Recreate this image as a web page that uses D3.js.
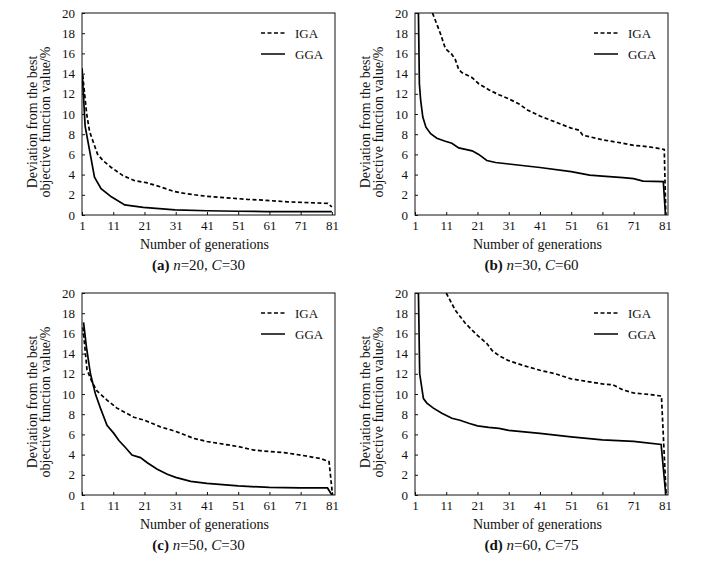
<!DOCTYPE html>
<html>
<head>
<meta charset="utf-8">
<script src="https://cdn.jsdelivr.net/npm/d3@7"></script>
<style>
    body { margin: 0; background: #fff; }
    text { font-family: "Liberation Serif", "Times New Roman", serif; fill: #111; }
</style>
</head>
<body>
<div id="chart"></div>
<script>
// tick labels and captions
let xTicks = [1, 11, 21, 31, 41, 51, 61, 71, 81];
let yTicks = [0, 2, 4, 6, 8, 10, 12, 14, 16, 18, 20];
let seriesNames = ["IGA", "GGA"];
let panelTags = ["(a)", "(b)", "(c)", "(d)"];
let nValues = [20, 30, 50, 60];
let cValues = [30, 60, 30, 75];

// (a) n=20, C=30
let igaGenA = [1, 2.5, 3.4, 4.4, 6, 7.7, 10.4, 14.1, 17.9, 21.6, 26, 30.2, 34.5, 41, 47.5, 53.9, 60, 66.8, 75.4, 79.7, 81];
let igaValA = [14.5, 10, 8.3, 7.4, 6.0, 5.4, 4.7, 3.9, 3.4, 3.2, 2.8, 2.35, 2.1, 1.85, 1.7, 1.55, 1.45, 1.3, 1.2, 1.15, 0.8];
let ggaGenA = [1, 2, 5, 7.1, 10.4, 14.7, 20.6, 30.8, 41, 50.7, 60, 81];
let ggaValA = [14.5, 8.8, 3.75, 2.6, 1.8, 1.0, 0.75, 0.5, 0.42, 0.37, 0.34, 0.33];

// (b) n=30, C=60
let igaGenB = [6.6, 9.1, 10.7, 12.8, 13.9, 15, 16, 19.3, 21.4, 24.6, 27.9, 31, 34.3, 37, 41, 46, 51, 53.6, 54.7, 61, 67.6, 71, 76, 80.8, 81.3];
let igaValB = [20, 18, 16.5, 15.9, 15.4, 14.4, 14.1, 13.6, 13.0, 12.4, 11.9, 11.5, 11.0, 10.4, 9.8, 9.2, 8.6, 8.4, 7.9, 7.45, 7.1, 6.9, 6.75, 6.5, 0];
let ggaGenB = [2.1, 2.4, 2.8, 3.5, 4.5, 6, 8, 10.7, 12.8, 15, 19.3, 21.4, 24, 26.8, 31, 41, 51, 56.9, 61, 67.6, 71, 74, 80.5, 81.2];
let ggaValB = [20, 13, 11.4, 9.7, 8.7, 8.05, 7.6, 7.3, 7.1, 6.65, 6.35, 6.0, 5.4, 5.2, 5.05, 4.7, 4.3, 3.95, 3.85, 3.7, 3.6, 3.35, 3.3, 0];

// (c) n=50, C=30
let igaGenC = [1.3, 2.6, 4.2, 5.8, 9, 12.2, 17.6, 21, 26.1, 31, 36.8, 41, 51, 56, 61, 65.7, 71, 77.5, 80.1, 81.2];
let igaValC = [16.6, 12.4, 11.2, 10.3, 9.4, 8.6, 7.7, 7.4, 6.75, 6.3, 5.6, 5.3, 4.8, 4.45, 4.3, 4.2, 3.95, 3.6, 3.3, 0];
let ggaGenC = [1.5, 2.4, 3.7, 5.3, 6.9, 9, 11.2, 12.8, 14.9, 17, 19.7, 21.9, 25.1, 28.3, 31, 35.8, 41, 51, 61, 71, 79.6, 81];
let ggaValC = [17.1, 14.7, 12.0, 10.0, 8.6, 6.9, 6.1, 5.4, 4.7, 3.95, 3.7, 3.2, 2.55, 2.05, 1.75, 1.35, 1.15, 0.9, 0.75, 0.7, 0.7, 0];

// (d) n=60, C=75
let igaGenD = [11, 13.9, 17.1, 21, 24, 25.7, 27.9, 31, 35.4, 41, 46, 51, 56.9, 61, 64.4, 67.6, 71, 76, 79.9, 81.4];
let igaValD = [20, 18.3, 17, 15.8, 15, 14.3, 13.8, 13.3, 12.85, 12.35, 12.0, 11.5, 11.2, 11.0, 10.9, 10.4, 10.1, 9.95, 9.8, 0];
let ggaGenD = [2.1, 2.5, 3.7, 4.8, 6.9, 9.6, 12.8, 15.4, 18.2, 21, 24.6, 27.9, 31, 41, 51, 61, 71, 79.8, 81.3];
let ggaValD = [20, 12, 9.55, 9.1, 8.6, 8.1, 7.6, 7.4, 7.1, 6.85, 6.7, 6.6, 6.4, 6.1, 5.75, 5.45, 5.3, 5.0, 0];

let panels = [
    {left: 82, top: 13, iga: [igaGenA, igaValA], gga: [ggaGenA, ggaValA]},
    {left: 415, top: 13, iga: [igaGenB, igaValB], gga: [ggaGenB, ggaValB]},
    {left: 82, top: 293, iga: [igaGenC, igaValC], gga: [ggaGenC, ggaValC]},
    {left: 415, top: 293, iga: [igaGenD, igaValD], gga: [ggaGenD, ggaValD]}
];

let svg = d3.select("#chart").append("svg")
    .attr("width", 714)
    .attr("height", 565);

let plotW = 253, plotH = 202;

panels.forEach(function (p, i) {
    let g = svg.append("g").attr("transform", "translate(" + p.left + "," + p.top + ")");

    let x = d3.scaleLinear().domain([1, 82]).range([0, plotW]);
    let y = d3.scaleLinear().domain([0, 20]).range([plotH, 0]);

    g.append("clipPath").attr("id", "clip" + i)
        .append("rect").attr("width", plotW).attr("height", plotH);

    // axes, ticks pointing inwards
    let xAxis = g.append("g")
        .attr("transform", "translate(0," + plotH + ")")
        .call(d3.axisBottom(x).tickValues(xTicks).tickSizeInner(-3).tickSizeOuter(0).tickPadding(6));
    let yAxis = g.append("g")
        .call(d3.axisLeft(y).tickValues(yTicks).tickSizeInner(-3).tickSizeOuter(0).tickPadding(7));
    [xAxis, yAxis].forEach(function (a) {
        a.select(".domain").remove();
        a.selectAll("line").attr("stroke", "#111");
        a.selectAll("text").style("font-size", "13px").style("fill", "#111")
            .style("font-family", "'Liberation Serif', serif");
    });

    g.append("rect")
        .attr("width", plotW).attr("height", plotH)
        .attr("fill", "none").attr("stroke", "#111").attr("stroke-width", 1);

    let line = d3.line()
        .x(function (d) { return x(d[0]); })
        .y(function (d) { return y(d[1]); });

    [p.iga, p.gga].forEach(function (s, k) {
        let pts = s[0].map(function (gen, j) { return [gen, s[1][j]]; });
        g.append("path")
            .datum(pts)
            .attr("clip-path", "url(#clip" + i + ")")
            .attr("fill", "none")
            .attr("stroke", "#000")
            .attr("stroke-width", 1.7)
            .attr("stroke-dasharray", k === 0 ? "4,2.5" : null)
            .attr("d", line);
    });

    // legend
    seriesNames.forEach(function (name, k) {
        let ly = 20 + k * 21;
        g.append("line")
            .attr("x1", plotW - 74).attr("x2", plotW - 50)
            .attr("y1", ly).attr("y2", ly)
            .attr("stroke", "#000").attr("stroke-width", 1.5)
            .attr("stroke-dasharray", k === 0 ? "4,2.5" : null);
        g.append("text")
            .attr("x", plotW - 40).attr("y", ly).attr("dy", "0.35em")
            .style("font-size", "13px")
            .text(name);
    });

    // y title
    let yt = g.append("text")
        .attr("transform", "translate(-50," + (plotH / 2 + 8) + ") rotate(-90)")
        .attr("text-anchor", "middle")
        .style("font-size", "14px");
    yt.append("tspan").attr("x", 0).attr("dy", "0.35em").text("Deviation from the best");
    yt.append("tspan").attr("x", 0).attr("dy", 13).text("objective function value/%");

    // x title
    g.append("text")
        .attr("x", plotW / 2 - 4).attr("y", plotH + 29).attr("dy", "0.35em")
        .attr("text-anchor", "middle")
        .style("font-size", "14px")
        .text("Number of generations");

    // caption
    let cap = g.append("text")
        .attr("x", plotW / 2 - 10).attr("y", plotH + 50).attr("dy", "0.35em")
        .attr("text-anchor", "middle")
        .style("font-size", "15px");
    cap.append("tspan").style("font-weight", "bold").text(panelTags[i]);
    cap.append("tspan").text(" ");
    cap.append("tspan").style("font-style", "italic").text("n");
    cap.append("tspan").text("=" + nValues[i] + ", ");
    cap.append("tspan").style("font-style", "italic").text("C");
    cap.append("tspan").text("=" + cValues[i]);
});
</script>
</body>
</html>
